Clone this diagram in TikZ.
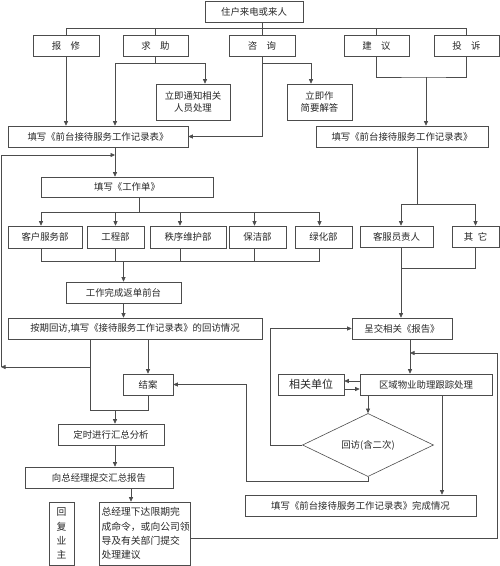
\documentclass[tikz,border=0pt]{standalone}
\usepackage{fontspec}
\newfontfamily\cjk{Noto Sans CJK SC}
\usetikzlibrary{arrows.meta,shapes.geometric}

\begin{document}
\begin{tikzpicture}[x=1pt, y=-1pt, line width=0.6pt, color=black!70,
  box/.style = {draw, rectangle, minimum height=21pt, inner sep=1pt},
  tall/.style = {draw, rectangle, minimum height=36pt, inner sep=1pt, align=center,
                 font=\cjk\fontsize{9.4}{12.7}\selectfont},
  col/.style = {draw, rectangle, minimum height=63pt, inner sep=1pt,
                font=\cjk\fontsize{9.8}{14.3}\selectfont},
  check/.style = {draw, diamond, minimum width=131pt, minimum height=43pt, inner sep=0pt},
  arr/.style = {-{Triangle[length=4.5pt, width=4pt]}},
  every node/.style = {font=\cjk\fontsize{9.4}{11}\selectfont, text=black!85},
  ]
  \useasboundingbox (0,0) rectangle (500,566);

  \node[box, minimum width=98pt] (src) at (254,11.5) {住户来电或来人};
  \node[box, minimum width=66pt] (bx) at (66,45.5) {报\hspace{1em}修};
  \node[box, minimum width=65pt] (qz) at (155.5,45.5) {求\hspace{1em}助};
  \node[box, minimum width=66pt] (zx) at (262,45.5) {咨\hspace{1em}询};
  \node[box, minimum width=65pt] (jy) at (376.5,45.5) {建\hspace{1em}议};
  \node[box, minimum width=65pt] (ts) at (466.5,45.5) {投\hspace{1em}诉};
  \node[tall, minimum width=74pt] (tz) at (193,102) {立即通知相关\\人员处理};
  \node[tall, minimum width=65pt] (jd) at (319.5,102) {立即作\\简要解答};
  \node[box, minimum width=180pt] (recL) at (98,136.5) {填写《前台接待服务工作记录表》};
  \node[box, minimum width=172pt] (recR) at (402,136.5) {填写《前台接待服务工作记录表》};
  \node[box, minimum width=172pt, minimum height=20pt] (gzd) at (127,187) {填写《工作单》};
  \node[box, minimum width=74pt, minimum height=22pt] (d1) at (45,237) {客户服务部};
  \node[box, minimum width=57pt, minimum height=22pt] (d2) at (115.5,237) {工程部};
  \node[box, minimum width=76pt, minimum height=22pt] (d3) at (188,237) {秩序维护部};
  \node[box, minimum width=57pt, minimum height=22pt] (d4) at (257.5,237) {保洁部};
  \node[box, minimum width=57pt, minimum height=22pt] (d5) at (323.5,237) {绿化部};
  \node[box, minimum width=73pt] (kf) at (396.5,236.5) {客服员责人};
  \node[box, minimum width=47pt] (qt) at (475.5,236.5) {其\hspace{0.5em}它};
  \node[box, minimum width=115pt] (wc) at (123.5,292.5) {工作完成返单前台};
  \node[box, minimum width=254pt] (hf) at (135,328.5) {按期回访,填写《接待服务工作记录表》的回访情况};
  \node[box, minimum width=100pt] (bg) at (402,328.5) {呈交相关《报告》};
  \node[box, minimum width=50pt] (ja) at (148,384.5) {结案};
  \node[box, minimum width=66pt, font=\cjk\fontsize{11}{13}\selectfont] (xg) at (311,384.5) {相关单位};
  \node[box, minimum width=132pt] (qy) at (426,384.5) {区域物业助理跟踪处理};
  \node[check] (dm) at (368,445) {回访(含二次)};
  \node[box, minimum width=106pt] (hz) at (111,434.5) {定时进行汇总分析};
  \node[box, minimum width=148pt] (zb) at (99,477.5) {向总经理提交汇总报告};
  \node[box, minimum width=231pt] (wcqk) at (360.5,505.5) {填写《前台接待服务工作记录表》完成情况};
  \node[col, minimum width=91pt, text width=86pt, align=left] (zjl) at (144.5,533.5)
    {总经理下达限期完\\成命令，或向公司领\\导及有关部门提交\\处理建议};
  \node[col, minimum width=25pt, align=center] (yz) at (61.5,533.5) {回\\复\\业\\主};

  \coordinate (top) at (262,28);
  \coordinate (qj) at (155.5,63);
  \coordinate (c1) at (115,155);
  \coordinate (c2) at (205,84);
  \coordinate (c3) at (311,84);
  \coordinate (jt) at (426,77);
  \coordinate (rs) at (417,204);
  \coordinate (kx) at (401,268);
  \coordinate (gj) at (139,212);
  \coordinate (gk) at (123.5,261);
  \coordinate (lp) at (90,410);
  \coordinate (c5) at (1,367);
  \coordinate (c6) at (131,502);
  \coordinate (rc) at (497,538);
  \coordinate (qv) at (410,353);
  \coordinate (dl) at (270,445);
  \coordinate (db) at (246,481);

  \draw (src.south -| top) -- (top);
  \draw (bx.north) -- (bx.north |- top) -- (ts.north |- top) -- (ts.north);
  \foreach \n in {qz,zx,jy}
    \draw (\n.north) -- (\n.north |- top);
  \draw[arr] (bx.south) -- (bx.south |- recL.north);
  \draw (qz.south) -- (qj);
  \draw[arr] (qj) -| (recL.north -| c1);
  \draw[arr] (qj) -| (tz.north -| c2);
  \draw[arr] (zx.south) |- (recL.east);
  \draw[arr] (zx.south |- qj) -| (jd.north -| c3);
  \draw (jy.south) |- (jt) -| (ts.south);
  \draw[arr] (jt) -- (jt |- recR.north);

  \draw[arr] (recL.south -| c1) -- (gzd.north -| c1);
  \draw[arr] (c5) |- (c1);
  \draw (gzd.south -| gj) -- (gj);
  \draw ([xshift=-4pt]d1.north |- gj) -- ([xshift=-4pt]d5.north |- gj);
  \draw ([xshift=-4pt]d1.south |- gk) -- ([xshift=-4pt]d5.south |- gk);
  \foreach \n/\s in {d1/-4,d2/0,d3/-8,d4/-3,d5/-4} {
    \draw[arr] ([xshift=\s pt]\n.north |- gj) -- ([xshift=\s pt]\n.north);
    \draw ([xshift=\s pt]\n.south) -- ([xshift=\s pt]\n.south |- gk);
  }
  \draw[arr] (gk) -- (wc.north -| gk);
  \draw[arr] (wc.south) -- (wc.south |- hf.north);
  \draw[arr] (hf.south -| ja) -- (ja.north);
  \draw (hf.south -| lp) -- (lp) -- (lp -| ja) -- (ja.south);
  \draw[arr] (lp |- c5) -- (c5);
  \draw[arr] (lp -| c1) -- (hz.north -| c1);
  \draw[arr] (hz.south -| c1) -- (zb.north -| c1);
  \draw[arr] (zb.south -| c6) -- (zjl.north -| c6);
  \draw[arr] (zjl.east |- rc) -- (rc) |- (qv);

  \draw (recR.south -| rs) -- (rs);
  \draw[arr] (rs) -| (kf.north -| kx);
  \draw[arr] (rs) -| (qt.north);
  \draw (kf.south -| kx) -- (kx) -| (qt.south);
  \draw[arr] (kx) -- (bg.north -| kx);
  \draw[arr] (bg.south -| qv) -- (qy.north -| qv);
  \draw[arr] ([yshift=3.5pt]qy.west) -- ([yshift=3.5pt]xg.east);
  \draw[arr] ([yshift=-4.5pt]xg.east) -- ([yshift=-4.5pt]qy.west);
  \draw[arr] (qy.south -| dm) -- (dm.north);
  \draw[arr] ([xshift=16pt]qy.south) -- ([xshift=16pt]qy.south |- wcqk.north);
  \draw[arr] (dm.west) -- (dl) |- (bg.west);
  \draw[arr] (dm.south) |- (db) |- (ja.east);
\end{tikzpicture}
\end{document}
